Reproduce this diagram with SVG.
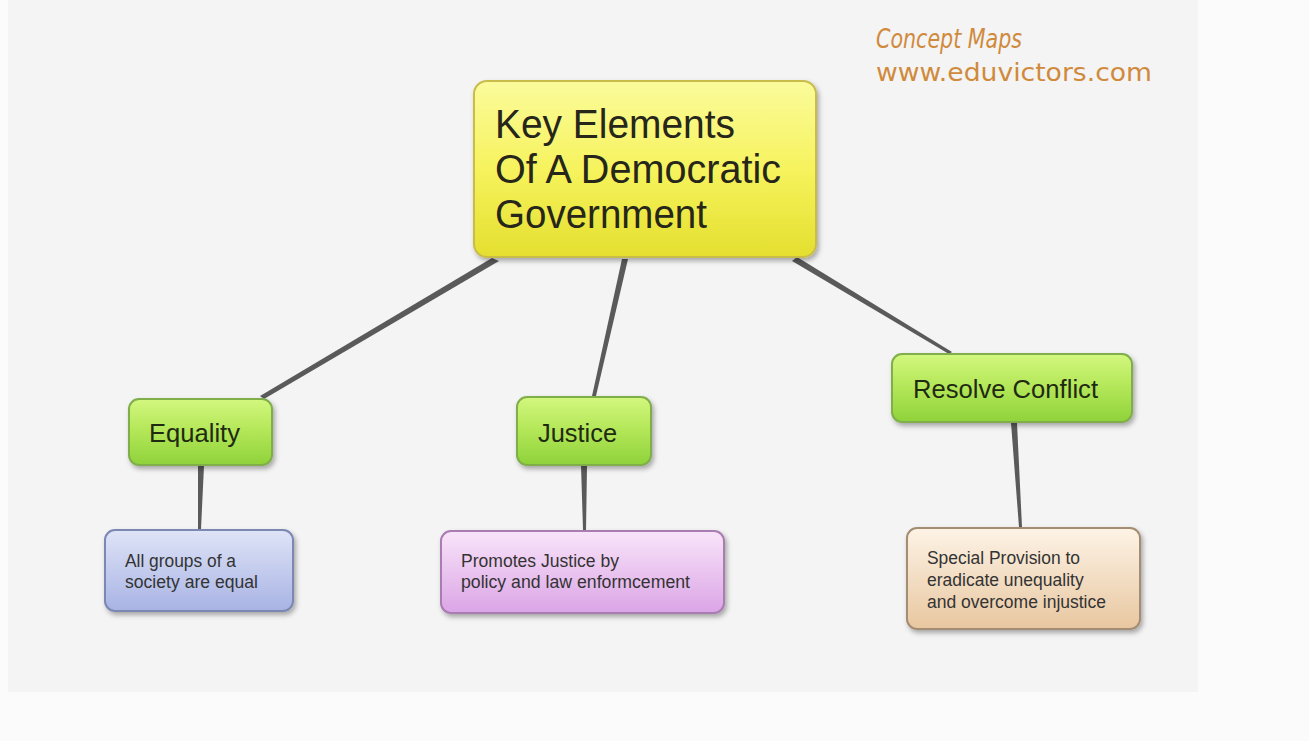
<svg xmlns="http://www.w3.org/2000/svg" width="1309" height="741" viewBox="0 0 1309 741">
<defs>
<linearGradient id="gYel" x1="0" y1="0" x2="0" y2="1"><stop offset="0" stop-color="#fbfb9c"/><stop offset="0.5" stop-color="#f6f35e"/><stop offset="1" stop-color="#e4df2e"/></linearGradient>
<linearGradient id="gGrn" x1="0" y1="0" x2="0" y2="1"><stop offset="0" stop-color="#d3f77e"/><stop offset="0.5" stop-color="#b2e657"/><stop offset="1" stop-color="#8fd23a"/></linearGradient>
<linearGradient id="gBlu" x1="0" y1="0" x2="0" y2="1"><stop offset="0" stop-color="#dfe4f7"/><stop offset="1" stop-color="#a8b3e4"/></linearGradient>
<linearGradient id="gPnk" x1="0" y1="0" x2="0" y2="1"><stop offset="0" stop-color="#f9e4f9"/><stop offset="1" stop-color="#dba5e6"/></linearGradient>
<linearGradient id="gPch" x1="0" y1="0" x2="0" y2="1"><stop offset="0" stop-color="#fdf3e6"/><stop offset="1" stop-color="#e8c7a0"/></linearGradient>
<filter id="sh" x="-10%" y="-10%" width="125%" height="140%"><feDropShadow dx="2" dy="3" stdDeviation="2.5" flood-color="#000" flood-opacity="0.32"/></filter>
</defs>
<style>
.lbl{font-family:"Liberation Sans",Arial,sans-serif;fill:#26261a}
.big{font-size:40px}
.mid{font-size:26px;fill:#1f2a12}
.sml{font-size:17.5px;fill:#333}
.box{stroke-width:2;filter:url(#sh)}
.con{fill:#5a5a5a}
.brand{font-family:"DejaVu Sans","Open Sans",sans-serif;fill:#d08a3c}
</style>
<rect width="1309" height="741" fill="#fbfbfb"/>
<rect x="8" y="0" width="1190" height="692" fill="#f4f4f4"/>
<g id="branding">
<text class="brand" x="876" y="48" font-size="26" font-style="italic" font-family="Liberation Serif,serif" fill="#e0913a" textLength="146" lengthAdjust="spacingAndGlyphs">Concept Maps</text>
<text class="brand" x="876" y="81" font-size="24" textLength="276" lengthAdjust="spacingAndGlyphs">www.eduvictors.com</text>
</g>
<g id="connectors">
<polygon class="con" points="492,258 499,261 264,399 260,396"/>
<polygon class="con" points="622,259 628,259 596,396 592,396"/>
<polygon class="con" points="792,261 797,257 952,352 949,354"/>
<polygon class="con" points="198,466 204,466 201,529 198,529"/>
<polygon class="con" points="581,466 587,466 586,530 583,530"/>
<polygon class="con" points="1011,423 1017,423 1022,527 1019,527"/>
</g>
<g id="n-main">
<rect class="box" x="474" y="81" width="342" height="176" rx="13" fill="url(#gYel)" stroke="#c9bc4c"/>
<text class="lbl big" x="495" y="138" textLength="240" lengthAdjust="spacingAndGlyphs">Key Elements</text>
<text class="lbl big" x="495" y="183" textLength="286" lengthAdjust="spacingAndGlyphs">Of A Democratic</text>
<text class="lbl big" x="495" y="228" textLength="212" lengthAdjust="spacingAndGlyphs">Government</text>
</g>
<g id="n-equality">
<rect class="box" x="129" y="399" width="143" height="66" rx="10" fill="url(#gGrn)" stroke="#7fae4c"/>
<text class="lbl mid" x="149" y="442" textLength="91" lengthAdjust="spacingAndGlyphs">Equality</text>
</g>
<g id="n-justice">
<rect class="box" x="517" y="397" width="134" height="68" rx="10" fill="url(#gGrn)" stroke="#7fae4c"/>
<text class="lbl mid" x="538" y="442" textLength="79" lengthAdjust="spacingAndGlyphs">Justice</text>
</g>
<g id="n-resolve">
<rect class="box" x="892" y="354" width="240" height="68" rx="10" fill="url(#gGrn)" stroke="#7fae4c"/>
<text class="lbl mid" x="913" y="398" textLength="185" lengthAdjust="spacingAndGlyphs">Resolve Conflict</text>
</g>
<g id="n-equal-desc">
<rect class="box" x="105" y="530" width="188" height="81" rx="10" fill="url(#gBlu)" stroke="#7c88b2"/>
<text class="lbl sml" x="125" y="567" textLength="111" lengthAdjust="spacingAndGlyphs">All groups of a</text>
<text class="lbl sml" x="125" y="588" textLength="133" lengthAdjust="spacingAndGlyphs">society are equal</text>
</g>
<g id="n-justice-desc">
<rect class="box" x="441" y="531" width="283" height="82" rx="10" fill="url(#gPnk)" stroke="#a97bb2"/>
<text class="lbl sml" x="461" y="567" textLength="158" lengthAdjust="spacingAndGlyphs">Promotes Justice by</text>
<text class="lbl sml" x="461" y="588" textLength="229" lengthAdjust="spacingAndGlyphs">policy and law enformcement</text>
</g>
<g id="n-resolve-desc">
<rect class="box" x="907" y="528" width="233" height="101" rx="10" fill="url(#gPch)" stroke="#a48d72"/>
<text class="lbl sml" x="927" y="564" textLength="153" lengthAdjust="spacingAndGlyphs">Special Provision to</text>
<text class="lbl sml" x="927" y="586">eradicate unequality</text>
<text class="lbl sml" x="927" y="608">and overcome injustice</text>
</g>
</svg>
